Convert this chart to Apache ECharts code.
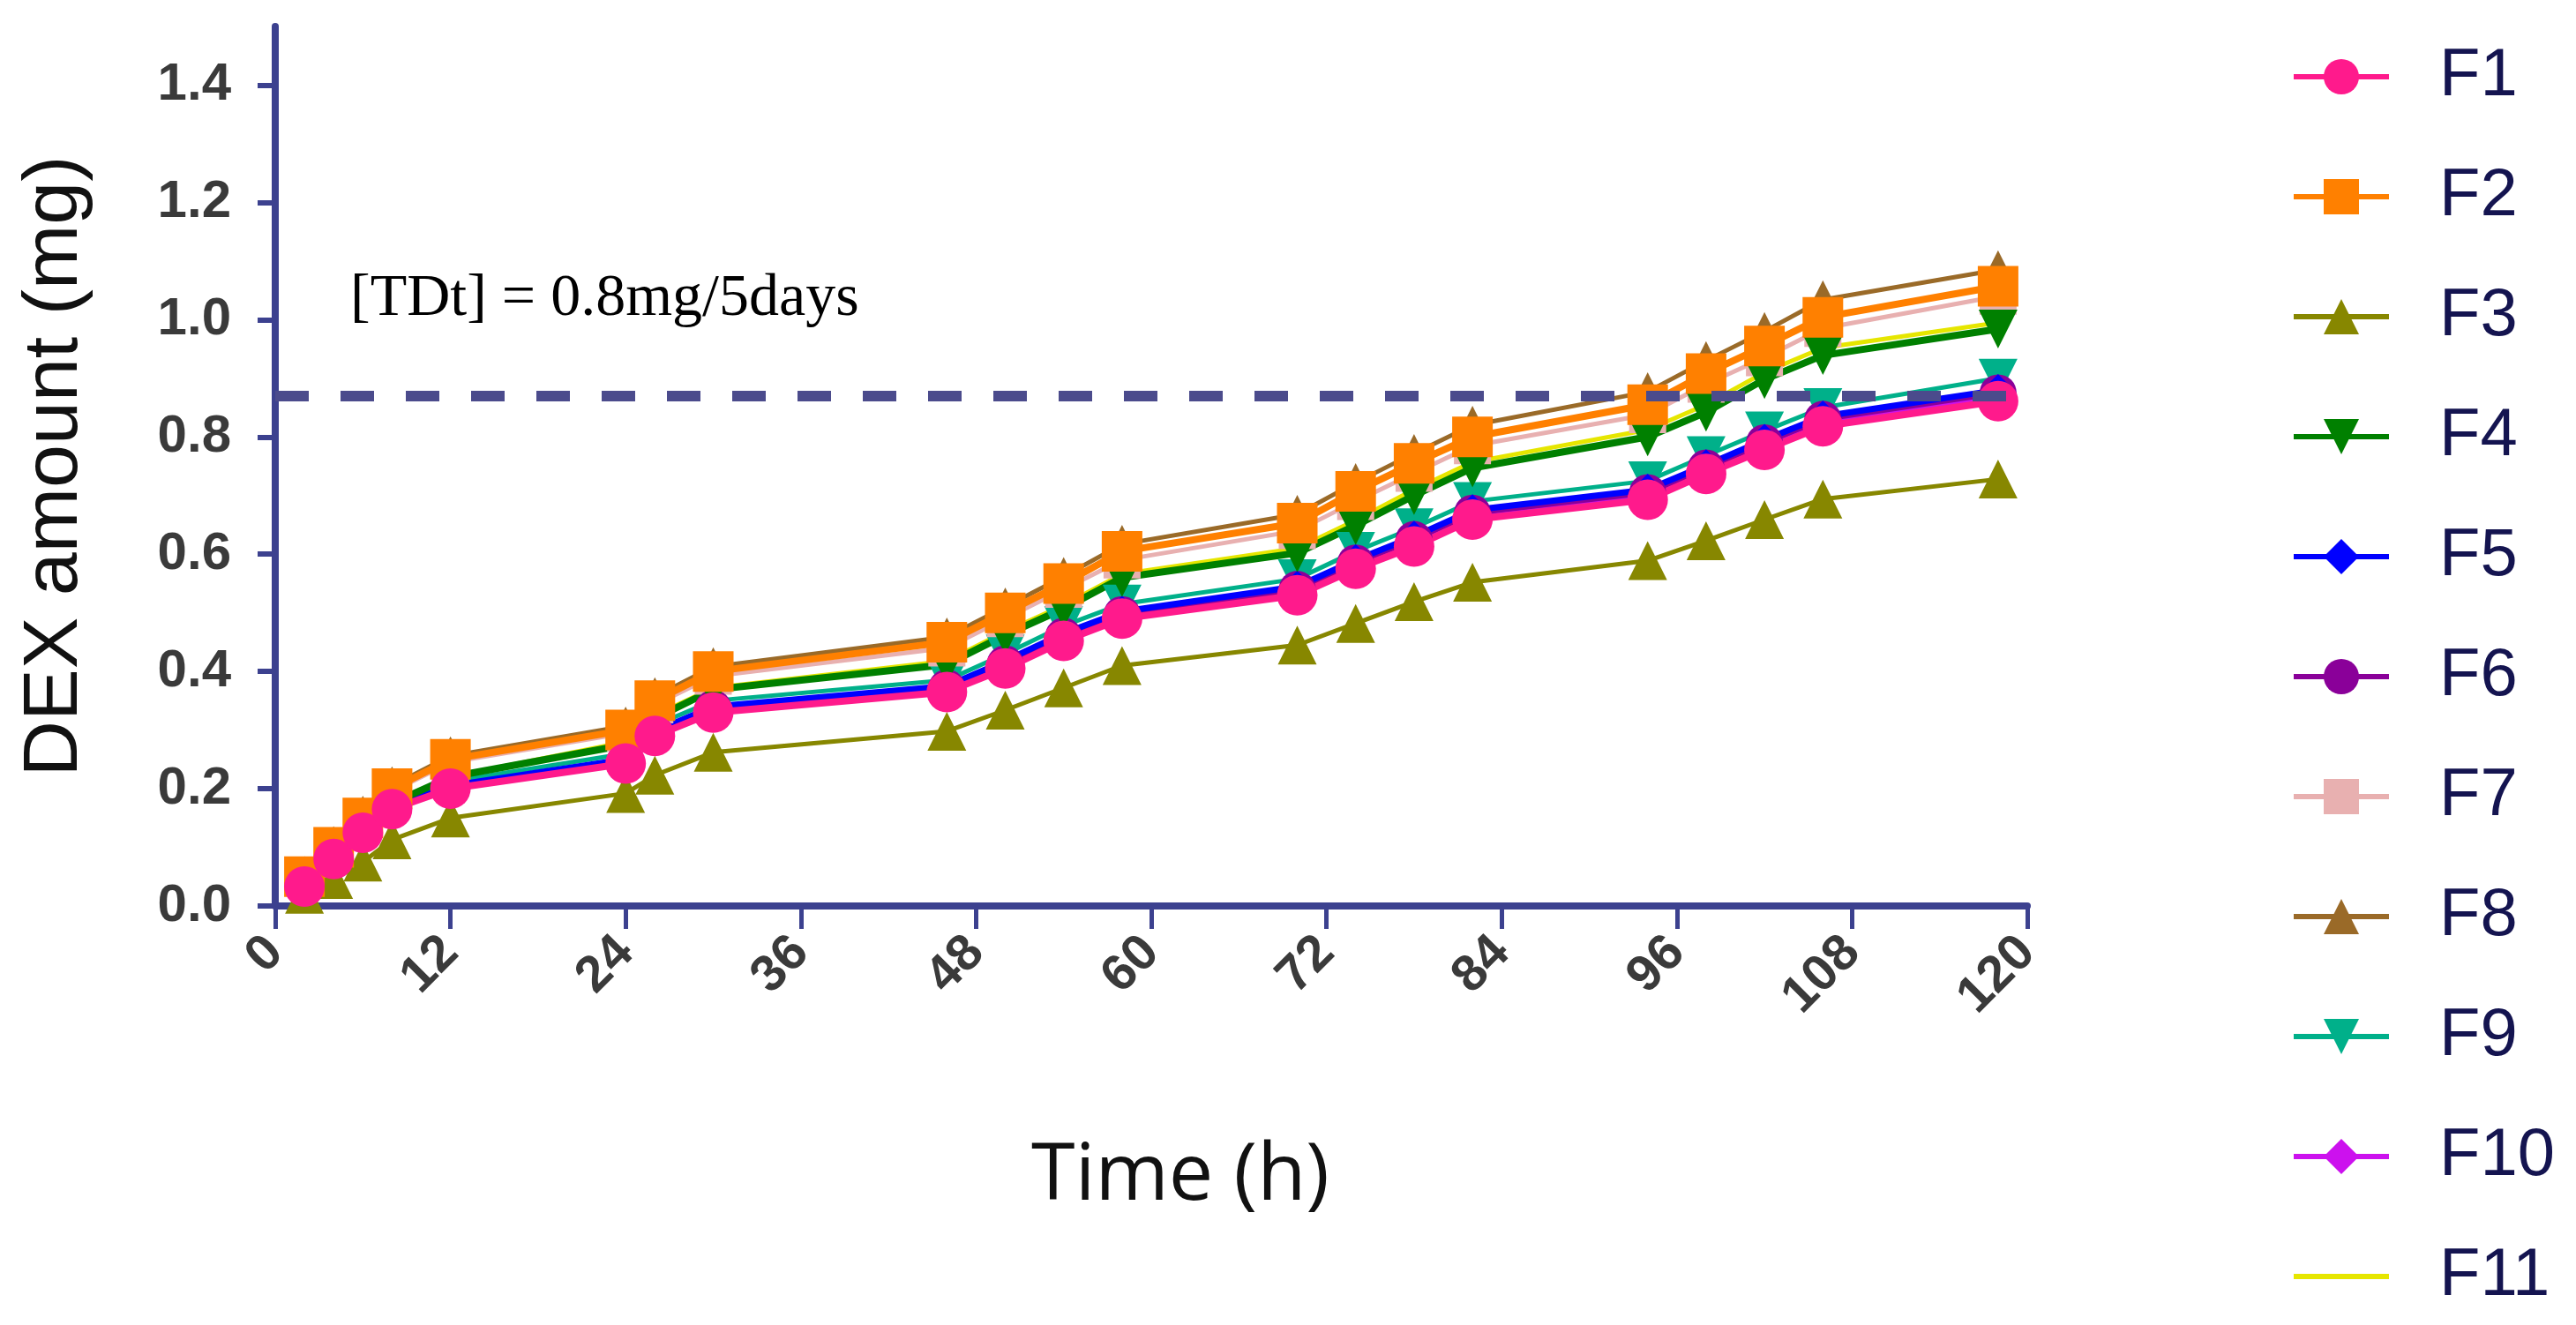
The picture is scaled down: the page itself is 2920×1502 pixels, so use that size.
<!DOCTYPE html>
<html>
<head>
<meta charset="utf-8">
<script src="https://cdn.jsdelivr.net/npm/echarts@6/dist/echarts.min.js"></script>
<style>
  html, body { margin: 0; padding: 0; background: #fff; }
  #chart { width: 2920px; height: 1502px; }
</style>
</head>
<body>
<div id="chart"></div>
<script>
// sampling times (h)
const times = [2, 4, 6, 8, 12, 24, 26, 30, 46, 50, 54, 58, 70, 74, 78, 82, 94, 98, 102, 106, 118];

// cumulative DEX released (mg)
const f1 = [0.033, 0.080, 0.125, 0.165, 0.200, 0.243, 0.290, 0.330, 0.365, 0.405, 0.452, 0.490, 0.530, 0.575, 0.613, 0.659, 0.693, 0.737, 0.778, 0.818, 0.861];
const f2 = [0.050, 0.100, 0.150, 0.200, 0.250, 0.300, 0.350, 0.400, 0.450, 0.500, 0.550, 0.605, 0.653, 0.707, 0.755, 0.800, 0.855, 0.908, 0.955, 1.004, 1.057];
const f3 = [0.020, 0.045, 0.075, 0.113, 0.150, 0.192, 0.223, 0.262, 0.298, 0.334, 0.372, 0.410, 0.445, 0.482, 0.519, 0.552, 0.589, 0.623, 0.659, 0.694, 0.728];
const f4 = [0.040, 0.085, 0.130, 0.175, 0.220, 0.275, 0.320, 0.369, 0.412, 0.462, 0.507, 0.560, 0.602, 0.649, 0.700, 0.747, 0.800, 0.842, 0.898, 0.939, 0.984];
const f5 = [0.035, 0.082, 0.128, 0.168, 0.205, 0.250, 0.298, 0.340, 0.375, 0.418, 0.465, 0.502, 0.545, 0.590, 0.630, 0.675, 0.710, 0.752, 0.795, 0.835, 0.880];
const f6 = [0.034, 0.081, 0.127, 0.167, 0.203, 0.248, 0.295, 0.337, 0.372, 0.413, 0.460, 0.497, 0.540, 0.585, 0.625, 0.670, 0.705, 0.747, 0.790, 0.830, 0.875];
const f7 = [0.048, 0.097, 0.146, 0.195, 0.245, 0.295, 0.343, 0.392, 0.440, 0.490, 0.540, 0.590, 0.640, 0.690, 0.738, 0.785, 0.838, 0.890, 0.935, 0.985, 1.040];
const f8 = [0.052, 0.103, 0.155, 0.205, 0.256, 0.307, 0.357, 0.408, 0.459, 0.510, 0.562, 0.617, 0.668, 0.722, 0.772, 0.820, 0.877, 0.930, 0.980, 1.034, 1.085];
const f9 = [0.036, 0.085, 0.132, 0.173, 0.212, 0.260, 0.308, 0.350, 0.385, 0.430, 0.478, 0.515, 0.558, 0.605, 0.645, 0.690, 0.725, 0.768, 0.810, 0.850, 0.900];
const f10 = [0.034, 0.080, 0.126, 0.166, 0.202, 0.246, 0.293, 0.334, 0.369, 0.410, 0.456, 0.494, 0.536, 0.580, 0.620, 0.664, 0.700, 0.742, 0.784, 0.824, 0.868];
const f11 = [0.042, 0.088, 0.134, 0.178, 0.220, 0.280, 0.325, 0.372, 0.418, 0.468, 0.513, 0.566, 0.610, 0.658, 0.710, 0.757, 0.812, 0.855, 0.910, 0.952, 0.995];

const names = ['F1', 'F2', 'F3', 'F4', 'F5', 'F6', 'F7', 'F8', 'F9', 'F10', 'F11'];
const yTicks = [0, 0.2, 0.4, 0.6, 0.8, 1.0, 1.2, 1.4];
const targetDose = 0.87;

const axisColor = '#3c418f';
const tickText = '#3a3a3a';

const pair = (arr) => times.map((t, i) => [t, arr[i]]);

const mk = (name, data, color, symbol, size, width, extra) => Object.assign({
    name: name,
    type: 'line',
    data: pair(data),
    symbol: symbol,
    symbolSize: size,
    lineStyle: {color: color, width: width},
    itemStyle: {color: color},
    emphasis: {disabled: true}
}, extra || {});

// drawn bottom first so F1 / F2 end up on top, as in the figure
const series = [
    mk('F11', f11, '#e6e600', 'none', 0, 5, {showSymbol: false}),
    mk('F10', f10, '#cc11ee', 'diamond', 36, 5),
    mk('F9', f9, '#00b08a', 'triangle', 44, 5, {symbolRotate: 180}),
    mk('F8', f8, '#9a6a28', 'triangle', 44, 5),
    mk('F7', f7, '#e8b0b0', 'rect', 42, 5),
    mk('F6', f6, '#8a0099', 'circle', 42, 6),
    mk('F5', f5, '#0000ff', 'diamond', 36, 7),
    mk('F4', f4, '#008000', 'triangle', 44, 8, {symbolRotate: 180}),
    mk('F3', f3, '#878700', 'triangle', 44, 5),
    mk('F2', f2, '#ff8000', 'rect', 46, 8),
    mk('F1', f1, '#ff1a8c', 'circle', 46, 8, {
        markLine: {
            silent: true,
            symbol: 'none',
            label: {show: false},
            lineStyle: {color: '#4b4b8c', width: 12, type: [38, 36]},
            data: [{yAxis: targetDose}]
        }
    })
];

const legendData = names.map((n) => n === 'F11'
    ? {name: n, itemStyle: {opacity: 0}}
    : {name: n});

const chart = echarts.init(document.getElementById('chart'));

chart.setOption({
    backgroundColor: '#fff',
    animation: false,
    grid: {
        left: 312,
        right: 622,
        top: 30,
        bottom: 475
    },
    legend: {
        data: legendData,
        orient: 'vertical',
        left: 2592,
        top: 44,
        itemWidth: 108,
        itemHeight: 50,
        itemGap: 60,
        selectedMode: false,
        lineStyle: {width: 6},
        textStyle: {
            fontFamily: 'Liberation Sans',
            fontSize: 76,
            color: '#141450',
            padding: [0, 0, 0, 52]
        }
    },
    xAxis: {
        type: 'value',
        min: 0,
        max: 120,
        interval: 12,
        name: 'Time (h)',
        nameLocation: 'middle',
        nameGap: 262,
        nameTextStyle: {
            fontFamily: 'Open Sans',
            fontSize: 90,
            color: '#111',
            padding: [0, 0, 0, 66]
        },
        axisLine: {lineStyle: {color: axisColor, width: 8}},
        axisTick: {length: 26, lineStyle: {color: axisColor, width: 5}},
        splitLine: {show: false},
        axisLabel: {
            rotate: 45,
            margin: 44,
            fontFamily: 'Liberation Sans',
            fontWeight: 'bold',
            fontSize: 58,
            color: tickText
        }
    },
    yAxis: {
        type: 'value',
        min: 0,
        max: 1.5,
        interval: 0.2,
        name: 'DEX amount (mg)',
        nameLocation: 'middle',
        nameRotate: 90,
        nameGap: 205,
        nameTextStyle: {
            fontFamily: 'Liberation Sans',
            fontSize: 88,
            color: '#111'
        },
        axisLine: {show: true, lineStyle: {color: axisColor, width: 8}},
        axisTick: {show: true, length: 20, customValues: yTicks, lineStyle: {color: axisColor, width: 6}},
        splitLine: {show: false},
        axisLabel: {
            customValues: yTicks,
            margin: 50,
            fontFamily: 'Liberation Sans',
            fontWeight: 'bold',
            fontSize: 60,
            color: tickText,
            formatter: (v) => v.toFixed(1)
        }
    },
    graphic: [{
        type: 'text',
        left: 397,
        top: 305,
        style: {
            text: '[TDt] = 0.8mg/5days',
            fontFamily: 'Liberation Serif',
            fontSize: 68,
            fill: '#000'
        }
    }],
    series: series
});
</script>
</body>
</html>
